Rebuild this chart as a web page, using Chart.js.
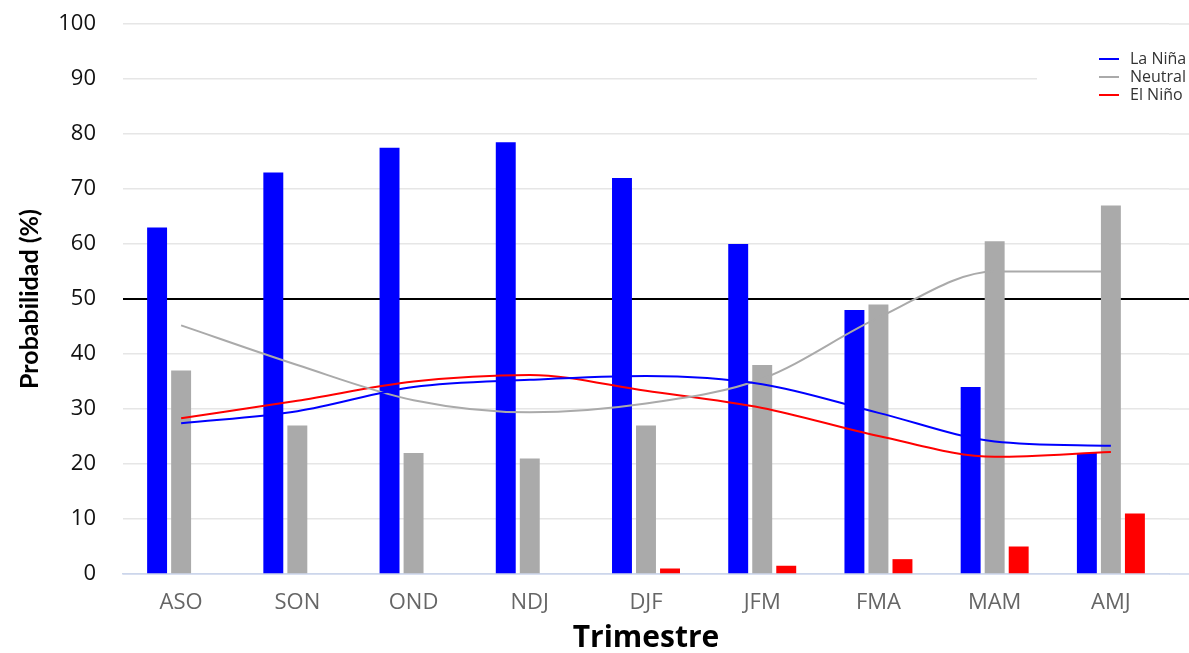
<!DOCTYPE html>
<html>
<head>
<meta charset="utf-8">
<script src="https://cdn.jsdelivr.net/npm/chart.js@4.4.1/dist/chart.umd.min.js"></script>
<style>
  html, body { margin: 0; padding: 0; background: #fff; }
  #wrap { width: 1189px; height: 653px; }
</style>
</head>
<body>
<div id="wrap"><canvas id="myChart"></canvas></div>
<script>
// Trimestres (x axis)
const trimestres = ['ASO', 'SON', 'OND', 'NDJ', 'DJF', 'JFM', 'FMA', 'MAM', 'AMJ'];

// Probabilities per trimester
const ninaBars    = [63, 73, 77.5, 78.5, 72, 60, 48, 34, 22];
const neutralBars = [37, 27, 22, 21, 27, 38, 49, 60.5, 67];
const ninoBars    = [0, 0, 0, 0, 1, 1.5, 2.7, 5, 11];

// Smoothed lines drawn over the bars
const ninaLine    = [27.4, 29.6, 34, 35.3, 36, 34.5, 29.3, 24.1, 23.3];
const neutralLine = [45.2, 38, 31.6, 29.4, 31, 35.5, 46.6, 55, 55];
const ninoLine    = [28.3, 31.5, 35, 36.2, 33.3, 30.2, 25.1, 21.3, 22.2];

// Y axis ticks
const yTicks = [0, 10, 20, 30, 40, 50, 60, 70, 80, 90, 100];

const BLUE = '#0000ff', GRAY = '#aaaaaa', RED = '#ff0000';

// extend the horizontal grid lines to the right edge of the canvas
const gridExtend = {
    id: 'gridExtend',
    beforeDatasetsDraw(chart) {
        const y = chart.scales.y, ctx = chart.ctx;
        ctx.save();
        y.ticks.forEach(t => {
            const py = y.getPixelForValue(t.value);
            ctx.beginPath();
            ctx.strokeStyle = t.value === 50 ? '#000' : (t.value === 0 ? '#ccd6eb' : '#e6e6e6');
            ctx.lineWidth = t.value === 50 ? 2 : 1.5;
            ctx.moveTo(chart.chartArea.right, py);
            ctx.lineTo(chart.width, py);
            ctx.stroke();
        });
        ctx.restore();
    }
};

// small legend box at the top right, only the line series
const lineLegend = {
    id: 'lineLegend',
    afterDatasetsDraw(chart) {
        const ctx = chart.ctx;
        ctx.save();
        ctx.fillStyle = '#fff';
        ctx.fillRect(1037, 42, chart.width - 1037, 66);
        const items = chart.data.datasets.filter(d => d.type === 'line');
        ctx.font = '16px "Open Sans"';
        ctx.textBaseline = 'middle';
        items.forEach((d, i) => {
            const yy = 59 + i * 18;
            ctx.beginPath();
            ctx.strokeStyle = d.borderColor;
            ctx.lineWidth = 2;
            ctx.moveTo(1099, yy);
            ctx.lineTo(1119, yy);
            ctx.stroke();
            ctx.fillStyle = '#333';
            ctx.fillText(d.label, 1130, yy);
        });
        ctx.restore();
    }
};

const ctx = document.getElementById('myChart').getContext('2d');

const myChart = new Chart(ctx, {
    data: {
        labels: trimestres,
        datasets: [
            { type: 'line', label: 'La Niña', data: ninaLine, borderColor: BLUE, borderWidth: 2,
              pointRadius: 0, cubicInterpolationMode: 'monotone', order: 0 },
            { type: 'line', label: 'Neutral', data: neutralLine, borderColor: GRAY, borderWidth: 2,
              pointRadius: 0, cubicInterpolationMode: 'monotone', order: 0 },
            { type: 'line', label: 'El Niño', data: ninoLine, borderColor: RED, borderWidth: 2,
              pointRadius: 0, cubicInterpolationMode: 'monotone', order: 0 },
            { type: 'bar', label: 'La Niña %', data: ninaBars, backgroundColor: BLUE,
              barPercentage: 0.83, categoryPercentage: 0.62, order: 1 },
            { type: 'bar', label: 'Neutral %', data: neutralBars, backgroundColor: GRAY,
              barPercentage: 0.83, categoryPercentage: 0.62, order: 1 },
            { type: 'bar', label: 'El Niño %', data: ninoBars, backgroundColor: RED,
              barPercentage: 0.83, categoryPercentage: 0.62, order: 1 }
        ]
    },
    options: {
        responsive: true,
        maintainAspectRatio: false,
        animation: false,
        layout: { padding: { top: 24, right: 20, left: 0, bottom: 0 } },
        plugins: {
            legend: { display: false },
            tooltip: { enabled: false }
        },
        scales: {
            x: {
                grid: { display: false, drawTicks: false },
                border: { color: '#ccd6eb', width: 1.5 },
                ticks: { color: '#666', padding: 16, font: { family: 'Open Sans', size: 22 } },
                title: {
                    display: true, text: 'Trimestre', color: '#000',
                    padding: 0,
                    font: { family: 'Open Sans', size: 30, weight: 'bold', lineHeight: 1 }
                },
                afterFit(scale) { scale.height = 79; }
            },
            y: {
                min: 0,
                max: 100,
                afterBuildTicks(scale) { scale.ticks = yTicks.map(v => ({ value: v })); },
                grid: {
                    drawTicks: false,
                    color: c => c.tick.value === 50 ? '#000' : (c.tick.value === 0 ? '#ccd6eb' : '#e6e6e6'),
                    lineWidth: c => c.tick.value === 50 ? 2 : 1.5
                },
                border: { display: false },
                ticks: { color: '#111', padding: 27, font: { family: 'Open Sans', size: 22 } },
                title: {
                    display: true, text: 'Probabilidad (%)', color: '#000',
                    padding: { top: 15, bottom: 0 },
                    font: { family: 'Lato', size: 25, weight: 'bold' }
                },
                afterFit(scale) {
                    scale.width = 123;
                    scale.paddingTop = 0;
                    scale.paddingBottom = 0;
                }
            }
        }
    },
    plugins: [gridExtend, lineLegend]
});
</script>
</body>
</html>
